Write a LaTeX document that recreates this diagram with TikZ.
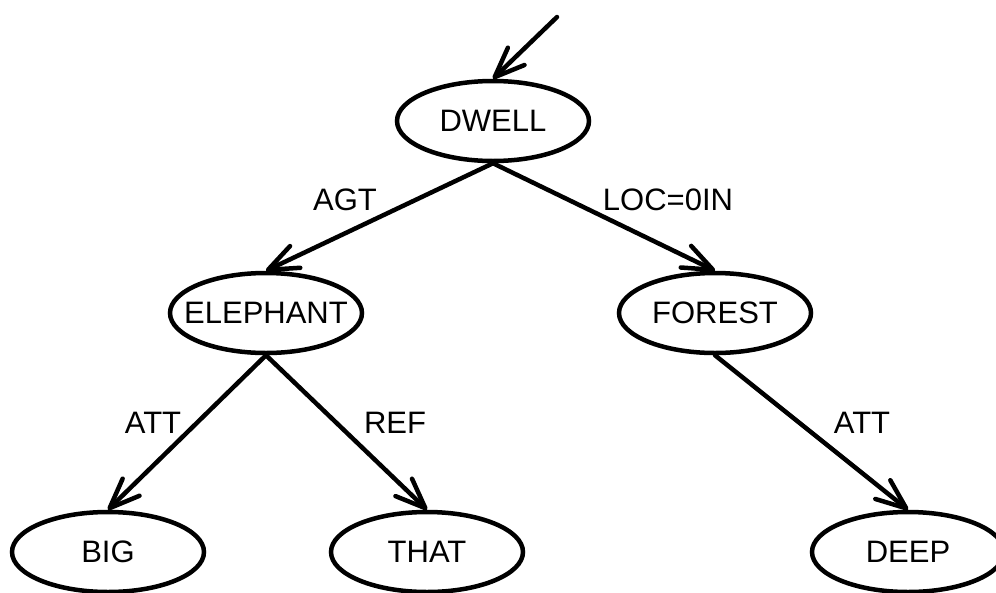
\documentclass[tikz,border=0pt]{standalone}
\usepackage{fontspec}
\setmainfont{Liberation Sans}
\usetikzlibrary{shapes.geometric,arrows.meta}
\begin{document}
\begin{tikzpicture}[x=1pt,y=-1pt,
  concept/.style={draw,ellipse,line width=4.5pt,minimum width=192pt,minimum height=80pt,inner sep=0pt,font=\fontsize{31}{31}\selectfont},
  wide/.style={inner xsep=-14pt},
  rel/.style={line width=4.5pt,line cap=round,-{Straight Barb[length=30pt,width=24pt,round]}},
  lbl/.style={font=\fontsize{31}{31}\selectfont,inner sep=0pt}]
\useasboundingbox (0,0) rectangle (996,592);
\node[concept] (dwell) at (493,121) {DWELL};
\node[concept,wide] (eleph) at (266,313) {ELEPHANT};
\node[concept] (forest) at (715,313) {FOREST};
\node[concept] (big) at (108,552) {BIG};
\node[concept] (that) at (427,552) {THAT};
\node[concept] (deep) at (908,552) {DEEP};
\coordinate (start) at (557,17);
\draw[rel] (start) -- (dwell.north);
\draw[rel] (dwell.south) -- (eleph.north);
\draw[rel] (dwell.south) -- (forest.north);
\draw[rel] (eleph.south) -- (big.north);
\draw[rel] (eleph.south) -- (that.north);
\draw[rel] (forest.south) -- (deep.north);
\node[lbl] (agt) at (345,200) {AGT};
\node[lbl] (loc) at (668,200) {LOC=0IN};
\node[lbl] (att1) at (153,423) {ATT};
\node[lbl] (ref) at (395,423) {REF};
\node[lbl] (att2) at (862,423) {ATT};
\end{tikzpicture}
\end{document}
